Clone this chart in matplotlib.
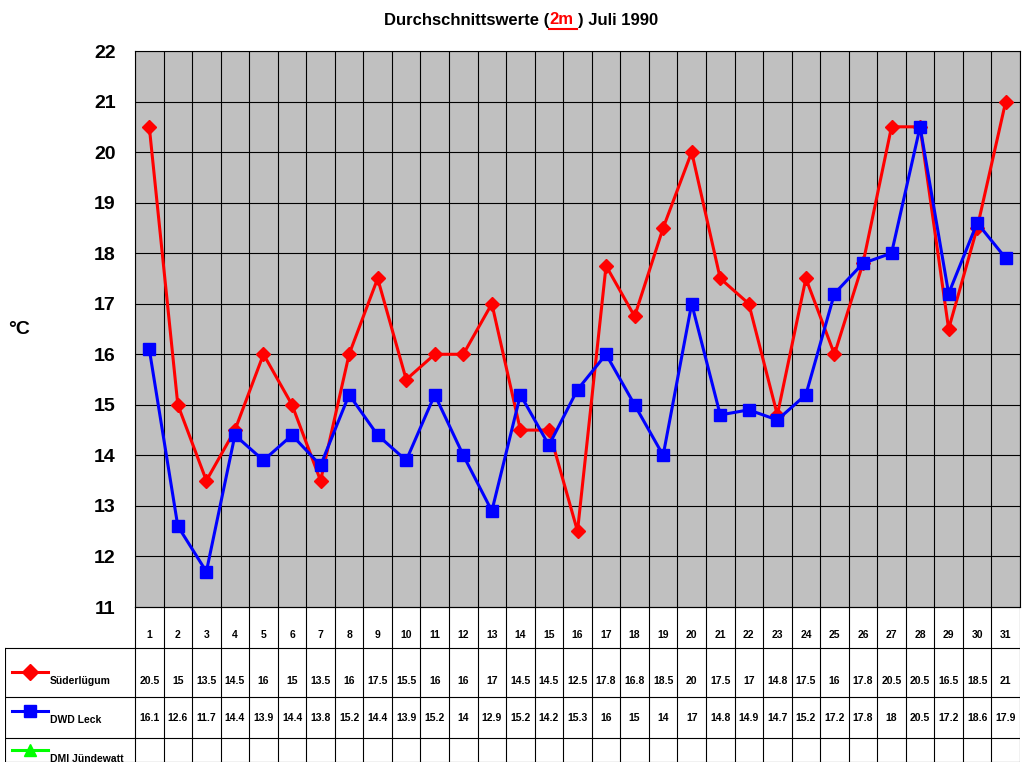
import matplotlib
matplotlib.use("Agg")
import matplotlib.pyplot as plt
from matplotlib.lines import Line2D

plt.rcParams['font.family'] = ['Liberation Sans', 'DejaVu Sans']

days = list(range(1, 32))
sued = [20.5,15,13.5,14.5,16,15,13.5,16,17.5,15.5,16,16,17,14.5,14.5,12.5,17.75,16.75,18.5,20,17.5,17,14.8,17.5,16,17.8,20.5,20.5,16.5,18.5,21]
sued_lbl = ["20.5","15","13.5","14.5","16","15","13.5","16","17.5","15.5","16","16","17","14.5","14.5","12.5","17.8","16.8","18.5","20","17.5","17","14.8","17.5","16","17.8","20.5","20.5","16.5","18.5","21"]
leck = [16.1,12.6,11.7,14.4,13.9,14.4,13.8,15.2,14.4,13.9,15.2,14,12.9,15.2,14.2,15.3,16,15,14,17,14.8,14.9,14.7,15.2,17.2,17.8,18,20.5,17.2,18.6,17.9]
leck_lbl = ["16.1","12.6","11.7","14.4","13.9","14.4","13.8","15.2","14.4","13.9","15.2","14","12.9","15.2","14.2","15.3","16","15","14","17","14.8","14.9","14.7","15.2","17.2","17.8","18","20.5","17.2","18.6","17.9"]
series_names = ["Süderlügum", "DWD Leck", "DMI Jündewatt"]

W, H = 1024, 768
fig = plt.figure(figsize=(10.24, 7.68), dpi=100)
L, R, T, B = 135, 1020, 51, 607
ax = fig.add_axes([L/W, 1-B/H, (R-L)/W, (B-T)/H])
ax.set_facecolor('#C0C0C0')
ax.set_xlim(0.5, 31.5)
ax.set_ylim(11, 22)
for x in range(0, 32):
    ax.axvline(x+0.5, color='black', lw=0.8)
for y in range(11, 23):
    ax.axhline(y, color='black', lw=0.8)
ax.plot(days, sued, color='#FF0000', lw=2.2, marker='D', ms=7, mfc='#FF0000', mec='#FF0000')
ax.plot(days, leck, color='#0000FF', lw=2.2, marker='s', ms=9, mfc='#0000FF', mec='#0000FF')
ax.set_xticks([])
ax.set_yticks(range(11, 23))
ax.set_yticklabels([str(v) for v in range(11, 23)], fontsize=14, fontweight='bold')
ax.tick_params(axis='y', length=0, pad=14)
for s in ax.spines.values():
    s.set_color('black')
fig.text(8/W, 1-330/H, "°C", fontsize=14, fontweight='bold', va='center')

# table
tx0, ty0, ty1 = 5, 607, 762
tab = fig.add_axes([tx0/W, 1-ty1/H, (R-tx0)/W, (ty1-ty0)/H])
tab.set_xlim(tx0, R); tab.set_ylim(ty1, ty0); tab.axis('off')
cw = (R-L)/31
rows = [607, 648, 697, 738, 762]
# vertical lines
for i in range(32):
    x = L + i*cw
    tab.plot([x, x], [607, 762], color='black', lw=0.8)
tab.plot([tx0, tx0], [648, 762], color='black', lw=0.8)
tab.plot([L, R], [607, 607], color='black', lw=0.8)
for y in rows[1:]:
    tab.plot([tx0, R], [y, y], color='black', lw=0.8)
for i, d in enumerate(days):
    cx = L + (i+0.5)*cw
    tab.text(cx, 635, str(d), ha='center', va='center', fontsize=7.5, fontweight='bold')
    tab.text(cx, 681, sued_lbl[i], ha='center', va='center', fontsize=7.5, fontweight='bold')
    tab.text(cx, 718, leck_lbl[i], ha='center', va='center', fontsize=7.5, fontweight='bold')
legy = [672, 711, 750]
cols = ['#FF0000', '#0000FF', '#00FF00']
mk = ['D', 's', '^']
for y, c, m, n in zip(legy, cols, mk, series_names):
    tab.plot([12, 48], [y, y], color=c, lw=2.2)
    tab.plot([30], [y], marker=m, color=c, ms=8)
    tab.text(50, y+9, n, fontsize=7.5, fontweight='bold', va='center')

# title
ty = 1-20/H
fig.text(549/W, ty, "Durchschnittswerte (", ha='right', va='center', fontsize=12, fontweight='bold')
fig.text(549/W, ty, "2m", ha='left', va='center', fontsize=12, fontweight='bold', color='#FF0000')
fig.text(578/W, ty, ") Juli 1990", ha='left', va='center', fontsize=12, fontweight='bold')
fig.add_artist(Line2D([549/W, 577/W], [1-29/H, 1-29/H], color='#FF0000', lw=1.5))

fig.savefig("out.png", dpi=100, facecolor='white')
